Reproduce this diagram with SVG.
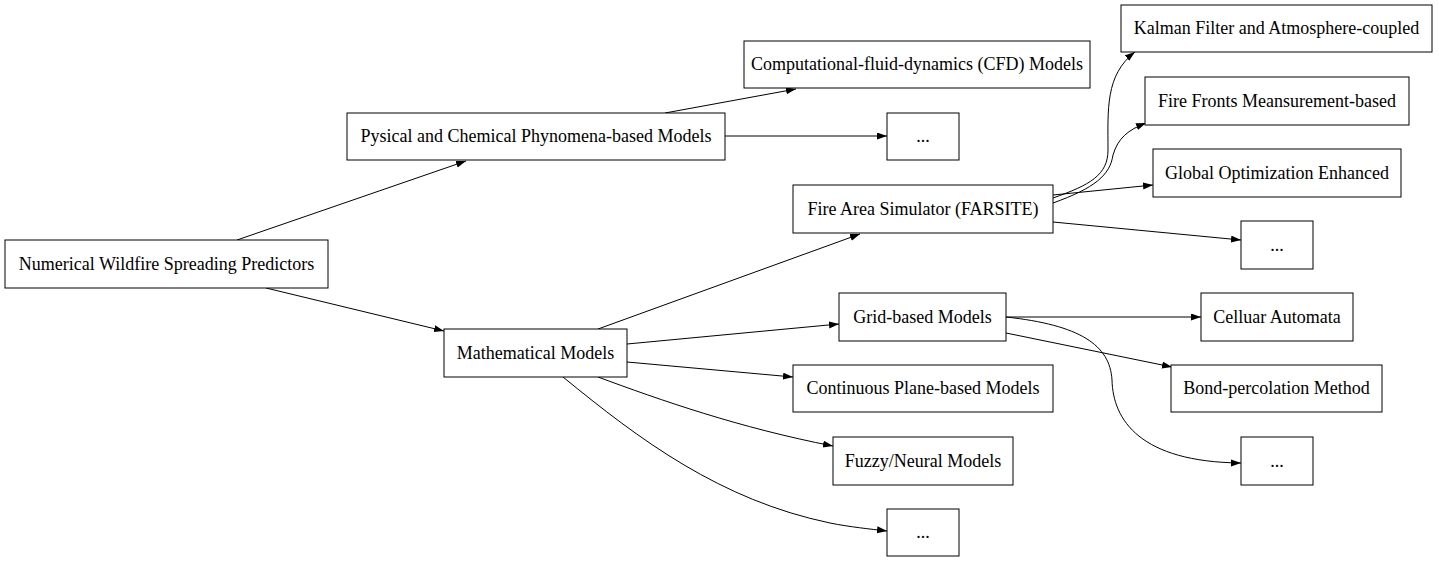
<svg xmlns="http://www.w3.org/2000/svg" width="1439" height="563" viewBox="0 0 1439 563">
<defs>
<marker id="arr" markerUnits="userSpaceOnUse" markerWidth="11" markerHeight="8" refX="10" refY="3.5" orient="auto">
<path d="M0,0 L10,3.5 L0,7 z" fill="#000"/>
</marker>
<style>
.n rect{fill:#fff;stroke:#000;stroke-width:1}
.n text{font-family:"Liberation Serif","Times New Roman",serif;font-size:18px;fill:#000;text-anchor:middle}
#edges path{fill:none;stroke:#000;stroke-width:1;marker-end:url(#arr)}
</style>
</defs>
<rect width="1439" height="563" fill="#fff"/>
<g id="edges">
<path d="M237,240 L466,161"/>
<path d="M266,288 L444,331"/>
<path d="M665,113 L796,89"/>
<path d="M725,136 L887,136"/>
<path d="M598,329 L860,234"/>
<path d="M627,344 L839,324"/>
<path d="M627,362 L793,377"/>
<path d="M598,377 C660,400 740,428 833,446"/>
<path d="M563,377 C640,440 720,500 830,523 C850,527 870,529 887,531"/>
<path d="M1053,198 C1090,185 1108,175 1108,150 C1108,110 1105,75 1135,52"/>
<path d="M1053,203 C1095,188 1110,175 1113,155 C1118,138 1128,130 1146,123"/>
<path d="M1053,195 L1153,185"/>
<path d="M1053,222 L1241,240"/>
<path d="M1006,317 L1201,317"/>
<path d="M1006,333 L1172,367"/>
<path d="M1006,317 C1080,325 1110,345 1112,380 C1113,420 1140,462 1241,463"/>
</g>
<g id="n_root" class="n"><rect x="5" y="240" width="323" height="48"/><text x="166.5" y="270">Numerical Wildfire Spreading Predictors</text></g>
<g id="n_phys" class="n"><rect x="347" y="113" width="378" height="47"/><text x="536" y="142">Pysical and Chemical Phynomena-based Models</text></g>
<g id="n_cfd" class="n"><rect x="744" y="41" width="346" height="47"/><text x="917" y="70">Computational-fluid-dynamics (CFD) Models</text></g>
<g id="n_phys_more" class="n"><rect x="887" y="113" width="72" height="47"/><text x="923" y="142">...</text></g>
<g id="n_math" class="n"><rect x="444" y="329" width="183" height="48"/><text x="535.5" y="359">Mathematical Models</text></g>
<g id="n_farsite" class="n"><rect x="793" y="185" width="260" height="48"/><text x="923" y="215">Fire Area Simulator (FARSITE)</text></g>
<g id="n_grid" class="n"><rect x="839" y="293" width="167" height="48"/><text x="922.5" y="323">Grid-based Models</text></g>
<g id="n_cont" class="n"><rect x="793" y="365" width="260" height="47"/><text x="923" y="394">Continuous Plane-based Models</text></g>
<g id="n_fuzzy" class="n"><rect x="833" y="437" width="180" height="48"/><text x="923" y="467">Fuzzy/Neural Models</text></g>
<g id="n_math_more" class="n"><rect x="887" y="509" width="72" height="47"/><text x="923" y="538">...</text></g>
<g id="n_kalman" class="n"><rect x="1121" y="5" width="311" height="47"/><text x="1276.5" y="34">Kalman Filter and Atmosphere-coupled</text></g>
<g id="n_fronts" class="n"><rect x="1145" y="77" width="264" height="48"/><text x="1277" y="107">Fire Fronts Meansurement-based</text></g>
<g id="n_global" class="n"><rect x="1153" y="149" width="248" height="48"/><text x="1277" y="179">Global Optimization Enhanced</text></g>
<g id="n_farsite_more" class="n"><rect x="1241" y="221" width="72" height="48"/><text x="1277" y="251">...</text></g>
<g id="n_cell" class="n"><rect x="1201" y="293" width="152" height="48"/><text x="1277" y="323">Celluar Automata</text></g>
<g id="n_bond" class="n"><rect x="1171" y="365" width="211" height="47"/><text x="1276.5" y="394">Bond-percolation Method</text></g>
<g id="n_grid_more" class="n"><rect x="1241" y="437" width="72" height="48"/><text x="1277" y="467">...</text></g>
</svg>
